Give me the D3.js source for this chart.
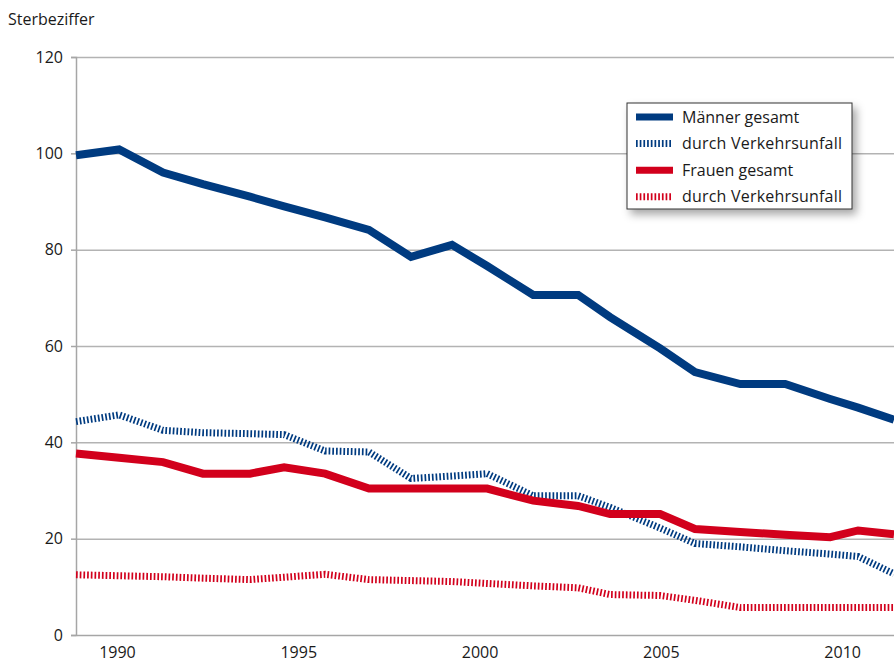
<!DOCTYPE html>
<html>
<head>
<meta charset="utf-8">
<script src="https://cdn.jsdelivr.net/npm/d3@7"></script>
<style>
  body { margin: 0; background: #fff; }
  text { font-family: "Open Sans", sans-serif; fill: #1a1a1a; }
</style>
</head>
<body>
<svg id="chart"></svg>
<script>
// positions of the data points on the time axis
const pointYears = [1988.87, 1990.06, 1991.27, 1992.37, 1993.67, 1994.61, 1995.74, 1996.95, 1998.11, 1999.24,
                    2000.21, 2001.48, 2002.72, 2003.60, 2004.98, 2005.94, 2007.19, 2008.43, 2009.67, 2010.44, 2011.43];

const maennerGesamt  = [99.6, 100.8, 96.0, 93.6, 91.0, 89.0, 86.7, 84.1, 78.5, 81.0,
                        76.6, 70.6, 70.6, 66.0, 59.5, 54.6, 52.1, 52.1, 49.0, 47.2, 44.7];
const maennerVerkehr = [44.3, 45.7, 42.5, 42.0, 41.8, 41.6, 38.2, 38.0, 32.5, 33.0,
                        33.5, 28.9, 28.9, 26.5, 22.2, 19.0, 18.3, 17.5, 16.8, 16.3, 12.7];
const frauenGesamt   = [37.7, 36.8, 35.9, 33.5, 33.5, 34.8, 33.5, 30.4, 30.4, 30.4,
                        30.4, 27.9, 26.8, 25.1, 25.1, 22.0, 21.4, 20.8, 20.3, 21.7, 20.9];
const frauenVerkehr  = [12.5, 12.3, 12.1, 11.8, 11.5, 12.0, 12.6, 11.5, 11.3, 11.1,
                        10.7, 10.2, 9.8, 8.4, 8.2, 7.2, 5.7, 5.7, 5.7, 5.7, 5.7];

const seriesNames = ["Männer gesamt", "durch Verkehrsunfall", "Frauen gesamt", "durch Verkehrsunfall"];
const yTicks = [0, 20, 40, 60, 80, 100, 120];
const xTicks = [1990, 1995, 2000, 2005, 2010];

const width = 894, height = 663;
const blue = "#003b80", red = "#d2001c";
const fontSize = 16;

const svg = d3.select("#chart").attr("width", width).attr("height", height);

const x = d3.scaleLinear().domain([1988.87, 2011.43]).range([76, 894]);
const y = d3.scaleLinear().domain([0, 120]).range([635, 57]);

// gridlines
svg.append("g")
    .attr("transform", "translate(76,0)")
    .call(d3.axisLeft(y).tickValues(yTicks.slice(1)).tickSize(-(width - 76)).tickFormat(""))
    .call(g => g.select(".domain").remove())
    .call(g => g.selectAll("line").attr("stroke", "#b3b3b3").attr("stroke-width", 1.5));

// y axis with labels
svg.append("g")
    .attr("transform", "translate(76,0)")
    .call(d3.axisLeft(y).tickValues(yTicks).tickSize(5).tickPadding(8))
    .call(g => g.select(".domain").attr("stroke", "#a6a6a6").attr("stroke-width", 1.5))
    .call(g => g.selectAll("line").attr("stroke", "#a6a6a6").attr("stroke-width", 1.5))
    .call(g => g.selectAll("text").attr("font-size", fontSize).attr("fill", "#1a1a1a").style("font-family", "'Open Sans', sans-serif"));

// x axis
svg.append("g")
    .attr("transform", "translate(0,635)")
    .call(d3.axisBottom(x).tickValues(xTicks).tickSize(0).tickPadding(12).tickFormat(d3.format("d")))
    .call(g => g.select(".domain").attr("stroke", "#a6a6a6").attr("stroke-width", 1.5))
    .call(g => g.selectAll("text").attr("font-size", fontSize).attr("fill", "#1a1a1a").style("font-family", "'Open Sans', sans-serif"));

svg.append("text")
    .attr("x", 8).attr("y", 25)
    .attr("font-size", fontSize)
    .text("Sterbeziffer");

const series = [
    { values: maennerGesamt,  color: blue, dotted: false },
    { values: maennerVerkehr, color: blue, dotted: true },
    { values: frauenGesamt,   color: red,  dotted: false },
    { values: frauenVerkehr,  color: red,  dotted: true }
];

const line = d3.line()
    .x((d, i) => x(pointYears[i]))
    .y(d => y(d));

svg.append("g")
    .selectAll("path")
    .data(series)
    .enter()
    .append("path")
    .attr("d", d => line(d.values))
    .attr("fill", "none")
    .attr("stroke", d => d.color)
    .attr("stroke-width", d => d.dotted ? 7 : 8)
    .attr("stroke-dasharray", d => d.dotted ? "1.7,2" : null)
    .attr("stroke-linejoin", "miter");

// legend
const defs = svg.append("defs");
const shadow = defs.append("filter").attr("id", "shadow")
    .attr("x", "-10%").attr("y", "-10%").attr("width", "130%").attr("height", "140%");
shadow.append("feDropShadow")
    .attr("dx", 4).attr("dy", 5).attr("stdDeviation", 4)
    .attr("flood-color", "#000").attr("flood-opacity", 0.35);

const legend = svg.append("g").attr("transform", "translate(627,103)");
legend.append("rect")
    .attr("width", 225).attr("height", 106)
    .attr("fill", "#fff").attr("stroke", "#333").attr("stroke-width", 1)
    .attr("filter", "url(#shadow)");

const rows = legend.selectAll("g.row")
    .data(series)
    .enter()
    .append("g")
    .attr("class", "row")
    .attr("transform", (d, i) => `translate(0,${14 + i * 26.6})`);

rows.append("line")
    .attr("x1", 9).attr("x2", 46)
    .attr("stroke", d => d.color)
    .attr("stroke-width", 7)
    .attr("stroke-dasharray", d => d.dotted ? "1.7,2" : null);

rows.append("text")
    .attr("x", 55).attr("y", 5.5)
    .attr("font-size", fontSize)
    .attr("textLength", (d, i) => i % 2 ? 160 : null)
    .text((d, i) => seriesNames[i]);
</script>
</body>
</html>
